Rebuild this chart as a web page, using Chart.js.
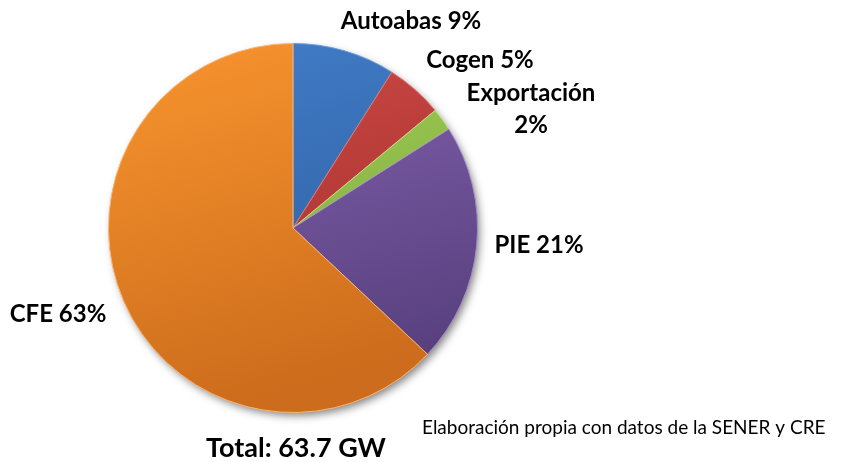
<!DOCTYPE html>
<html>
<head>
<meta charset="utf-8">
<script src="https://cdn.jsdelivr.net/npm/chart.js@4/dist/chart.umd.min.js"></script>
<style>
  html, body { margin: 0; padding: 0; background: #fff; }
  #wrap { width: 841px; height: 462px; position: relative; }
</style>
</head>
<body>
<div id="wrap"><canvas id="pieChart" width="841" height="462"></canvas></div>
<script>
// data
const categories = ['Autoabas', 'Cogen', 'Exportación', 'PIE', 'CFE'];
const shares = [9, 5, 2, 21, 63];
const totalText = 'Total: 63.7 GW';
const sourceText = 'Elaboración propia con datos de la SENER y CRE';

// office 2007 style colours: [light, dark, edge]
const sliceColors = [
    ['#437fcb', '#2c5c9c', '#6a9edb'],
    ['#d04a46', '#a3302d', '#e07a76'],
    ['#a6d35c', '#7ba63a', '#c2e38c'],
    ['#8866b5', '#58407e', '#a58bcb'],
    ['#f9952f', '#cc6c1c', '#fbb572']
];

// label placement, relative to the pie centre (px)
const labelSpots = [
    [{dx: 118, dy: -207}],
    [{dx: 187, dy: -168}],
    [{dx: 238, dy: -135}, {dx: 238, dy: -103}],
    [{dx: 246, dy: 17}],
    [{dx: -235, dy: 86}]
];

function sliceFill(context) {
    const chart = context.chart;
    const area = chart.chartArea;
    const c = sliceColors[context.dataIndex];
    if (!area) return c[0];
    const g = chart.ctx.createLinearGradient(area.left, area.top, area.left + area.width * 0.3, area.bottom);
    g.addColorStop(0, c[0]);
    g.addColorStop(1, c[1]);
    return g;
}

const pieDecor = {
    id: 'pieDecor',
    beforeDatasetsDraw(chart) {
        const arc = chart.getDatasetMeta(0).data[0];
        if (!arc) return;
        const ctx = chart.ctx;
        ctx.save();
        ctx.shadowColor = 'rgba(0,0,0,0.5)';
        ctx.shadowBlur = 8;
        ctx.shadowOffsetX = 3;
        ctx.shadowOffsetY = 4;
        ctx.fillStyle = '#c96a1d';
        ctx.beginPath();
        ctx.arc(arc.x, arc.y, arc.outerRadius - 1, 0, Math.PI * 2);
        ctx.fill();
        ctx.restore();
    },
    afterDraw(chart) {
        const arc = chart.getDatasetMeta(0).data[0];
        if (!arc) return;
        const ctx = chart.ctx;
        ctx.save();
        ctx.fillStyle = '#000';
        ctx.textAlign = 'center';
        ctx.textBaseline = 'middle';
        ctx.font = 'bold 24px Lato, "Open Sans", sans-serif';
        categories.forEach((cat, i) => {
            const spots = labelSpots[i];
            if (spots.length === 1) {
                ctx.fillText(cat + ' ' + shares[i] + '%', arc.x + spots[0].dx, arc.y + spots[0].dy);
            } else {
                ctx.fillText(cat, arc.x + spots[0].dx, arc.y + spots[0].dy);
                ctx.fillText(shares[i] + '%', arc.x + spots[1].dx, arc.y + spots[1].dy);
            }
        });
        ctx.font = 'bold 27px Lato, "Open Sans", sans-serif';
        ctx.fillText(totalText, arc.x + 3, arc.y + 220);
        ctx.font = '19px Lato, "Open Sans", sans-serif';
        ctx.textAlign = 'left';
        ctx.fillText(sourceText, 422, arc.y + 200);
        ctx.restore();
    }
};

new Chart(document.getElementById('pieChart').getContext('2d'), {
    type: 'pie',
    data: {
        labels: categories,
        datasets: [{
            data: shares,
            backgroundColor: sliceFill,
            borderColor: sliceColors.map(c => c[2]),
            borderWidth: 1,
            hoverOffset: 0
        }]
    },
    options: {
        responsive: false,
        animation: false,
        layout: {padding: {top: 42, bottom: 48, left: 108, right: 363}},
        plugins: {legend: {display: false}, tooltip: {enabled: false}}
    },
    plugins: [pieDecor]
});
</script>
</body>
</html>
